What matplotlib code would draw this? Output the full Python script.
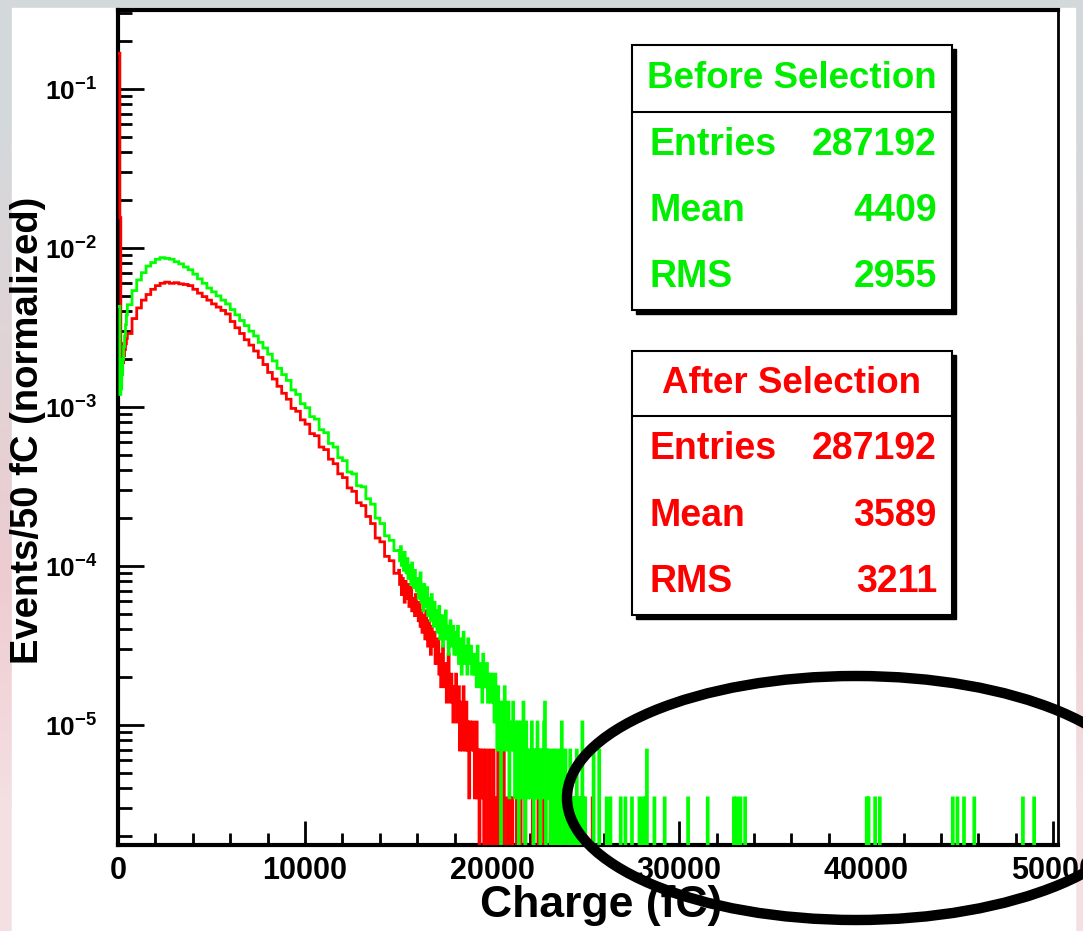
import numpy as np
import matplotlib.pyplot as plt
from matplotlib.patches import Rectangle, Ellipse
from matplotlib.ticker import FixedLocator, MultipleLocator, NullFormatter

plt.rcParams['font.family'] = ['Liberation Sans', 'DejaVu Sans']
plt.rcParams['font.weight'] = 'bold'
plt.rcParams['mathtext.fontset'] = 'custom'
plt.rcParams['mathtext.bf'] = 'Liberation Sans:bold'
plt.rcParams['mathtext.rm'] = 'Liberation Sans:bold'

n_entries = 287192

# 0-500 fC, single 50 fC bins (normalized)
green_head = [4.3e-3, 4.3e-3, 1.2e-3, 1.3e-3, 1.6e-3, 2.0e-3, 2.4e-3, 2.8e-3, 3.3e-3, 3.8e-3]
red_head = [0.168, 0.168, 1.55e-2, 2.5e-3, 1.7e-3, 1.9e-3, 2.1e-3, 2.3e-3, 2.5e-3, 2.7e-3]

# 500-15000 fC, read every 250 fC (per 50 fC, normalized)
green_body = [4.4e-3, 5.4e-3, 6.3e-3, 7.0e-3, 7.7e-3, 8.1e-3, 8.5e-3, 8.7e-3, 8.6e-3, 8.5e-3,
              8.2e-3, 7.95e-3, 7.6e-3, 7.3e-3, 6.85e-3, 6.4e-3, 6.0e-3, 5.6e-3, 5.3e-3, 5.0e-3,
              4.7e-3, 4.45e-3, 4.1e-3, 3.8e-3, 3.5e-3, 3.25e-3, 3.0e-3, 2.8e-3, 2.55e-3, 2.35e-3,
              2.15e-3, 1.95e-3, 1.75e-3, 1.6e-3, 1.47e-3, 1.28e-3, 1.2e-3, 1.05e-3, 9.9e-4, 8.7e-4,
              8.4e-4, 7.2e-4, 6.9e-4, 5.9e-4, 5.6e-4, 4.8e-4, 4.6e-4, 3.9e-4, 3.8e-4, 3.2e-4,
              3.15e-4, 2.65e-4, 2.45e-4, 2.0e-4, 1.85e-4, 1.55e-4, 1.45e-4, 1.25e-4]
red_body = [2.9e-3, 3.6e-3, 4.2e-3, 4.7e-3, 5.1e-3, 5.5e-3, 5.8e-3, 6.0e-3, 6.1e-3, 6.0e-3,
            6.05e-3, 5.95e-3, 5.9e-3, 5.8e-3, 5.5e-3, 5.2e-3, 4.95e-3, 4.7e-3, 4.45e-3, 4.25e-3,
            4.05e-3, 3.85e-3, 3.45e-3, 3.15e-3, 2.9e-3, 2.65e-3, 2.45e-3, 2.25e-3, 2.05e-3, 1.85e-3,
            1.65e-3, 1.5e-3, 1.35e-3, 1.22e-3, 1.12e-3, 9.8e-4, 9.4e-4, 8.3e-4, 7.8e-4, 6.8e-4,
            6.6e-4, 5.6e-4, 5.4e-4, 4.7e-4, 4.4e-4, 3.8e-4, 3.6e-4, 3.1e-4, 2.95e-4, 2.5e-4,
            2.4e-4, 2.05e-4, 1.85e-4, 1.5e-4, 1.42e-4, 1.15e-4, 1.08e-4, 9.0e-5]

# 15000-25000 fC, entries per 50 fC bin
green_tail = [36, 31, 38, 29, 33, 27, 35, 30, 26, 32, 24, 29, 27, 22, 30, 25, 21, 27, 23, 20,
              24, 18, 21, 26, 17, 20, 15, 22, 19, 16, 21, 14, 18, 17, 13, 19, 15, 12, 17, 14,
              15, 11, 13, 16, 10, 12, 14, 9, 13, 11, 15, 10, 12, 8, 11, 13, 9, 10, 12, 8,
              11, 9, 8, 12, 7, 9, 10, 6, 8, 11, 7, 9, 8, 6, 10, 7, 8, 9, 6, 7,
              8, 6, 7, 5, 9, 6, 5, 7, 6, 4, 8, 5, 6, 5, 7, 4, 6, 5, 4, 6,
              5, 4, 3, 6, 4, 2, 5, 3, 4, 0, 3, 4, 2, 5, 3, 3, 2, 4, 1, 3,
              3, 2, 4, 2, 1, 3, 2, 3, 0, 2, 3, 1, 2, 4, 2, 0, 3, 2, 1, 2,
              2, 1, 3, 2, 0, 2, 1, 2, 3, 1, 2, 0, 2, 1, 2, 3, 4, 0, 2, 1,
              2, 1, 0, 1, 2, 1, 0, 2, 1, 1, 0, 2, 1, 0, 3, 1, 1, 0, 2, 1,
              1, 0, 1, 2, 0, 1, 1, 0, 1, 0, 2, 1, 0, 1, 1, 0, 3, 1, 0, 1]
red_tail = [27, 22, 25, 19, 24, 21, 17, 23, 20, 18, 22, 16, 19, 21, 15, 18, 17, 14, 19, 15,
            16, 13, 17, 12, 15, 11, 14, 13, 10, 15, 12, 9, 13, 11, 8, 12, 10, 9, 11, 7,
            9, 7, 10, 6, 8, 5, 7, 9, 6, 5, 7, 4, 6, 8, 5, 4, 6, 5, 3, 5,
            4, 6, 3, 4, 5, 2, 4, 3, 2, 5, 3, 2, 4, 2, 3, 1, 3, 2, 2, 3,
            2, 1, 2, 3, 1, 2, 0, 2, 1, 1, 2, 0, 1, 2, 1, 0, 1, 2, 1, 0,
            1, 2, 0, 1, 0, 0, 2, 1, 0, 0, 0, 1, 2, 0, 0, 0, 1, 0, 0, 1,
            0, 1, 0, 0, 0, 0, 1, 0, 0, 0, 1, 0, 0, 0, 0, 1, 0, 0, 0, 0,
            0, 0, 0, 1, 0, 0, 0, 0, 0, 1, 0, 0, 0, 0, 0, 1, 1, 0, 0, 0,
            0, 0, 1, 0, 0, 0, 0, 0, 0, 0, 1, 0, 0, 0, 0, 0, 0, 0, 0, 0,
            0, 0, 0, 1, 0, 0, 0, 0, 0, 0, 0, 0, 0, 0, 1, 0, 0, 0, 0, 0]

# isolated bins above 25000 fC: bin lower edge (fC), entries
green_far_at = [25400, 25700, 26100, 26300, 26850, 27100, 27450, 27850, 28050, 28200,
                28250, 28650, 29200, 30450, 31500, 32900, 33050, 33250, 33500, 40000,
                40100, 40450, 40700, 44600, 44850, 45200, 45750, 48350, 48950]
green_far_n = [2, 2, 1, 1, 1, 1, 1, 1, 1, 1,
               2, 1, 1, 1, 1, 1, 1, 1, 1, 1,
               1, 1, 1, 1, 1, 1, 1, 1, 1]
red_far_at = [25350, 28200]
red_far_n = [1, 1]

stats_before = [("Entries", "287192"), ("Mean", "4409"), ("RMS", "2955")]
stats_after = [("Entries", "287192"), ("Mean", "3589"), ("RMS", "3211")]


def build(head, body, tail, far_at, far_n):
    edges = np.concatenate([np.arange(0, 500, 50), np.arange(500, 15000, 250),
                            np.arange(15000, 50001, 50)])
    far = np.zeros(500)
    for a, n in zip(far_at, far_n):
        far[(a - 25000) // 50] += n
    vals = np.concatenate([head, body, np.array(tail) / n_entries, far / n_entries])
    vals = np.where(vals > 0, vals, 1e-9)  # empty bins drop to the frame
    return edges, vals


W, H = 1083, 931
def fx(px):
    return px / W
def fy(py):
    return 1 - py / H

fig = plt.figure(figsize=(W / 100, H / 100), dpi=100)

# slide background strips
bg = fig.add_axes([0, 0, 1, 1], zorder=-5)
grad = np.array([[0.83, 0.85, 0.86], [0.88, 0.83, 0.84], [0.93, 0.80, 0.82], [0.96, 0.88, 0.89]])
bg.imshow(grad[:, None, :], aspect='auto', extent=[0, 1, 0, 1], interpolation='bilinear')
bg.add_patch(Rectangle((fx(12), 0), fx(1075) - fx(12), fy(8), color='white'))
bg.set_xlim(0, 1)
bg.set_ylim(0, 1)
bg.axis('off')

ax = fig.add_axes([fx(118), fy(845), fx(1058) - fx(118), fy(10) - fy(845)])
ge, gv = build(green_head, green_body, green_tail, green_far_at, green_far_n)
re, rv = build(red_head, red_body, red_tail, red_far_at, red_far_n)
ax.stairs(rv, re, color='#ff0000', lw=2, baseline=None, zorder=3)
ax.stairs(gv, ge, color='#00ff00', lw=2, baseline=None, zorder=3)

ax.set_yscale('log')
ax.set_xlim(0, 50250)
ax.set_ylim(1.76e-6, 0.314)

ax.xaxis.set_minor_locator(MultipleLocator(2000))
ax.set_xticks([0, 10000, 20000, 30000, 40000, 50000])
ax.set_xticklabels(['0', '10000', '20000', '30000', '40000', '50000'])
ydec = [1e-5, 1e-4, 1e-3, 1e-2, 1e-1]
ax.yaxis.set_major_locator(FixedLocator(ydec))
ax.set_yticklabels([r'$\mathbf{10^{-%d}}$' % k for k in [5, 4, 3, 2, 1]])
ax.yaxis.set_minor_locator(FixedLocator([m * d for d in [1e-6] + ydec for m in range(2, 10)]))
ax.yaxis.set_minor_formatter(NullFormatter())

ax.tick_params(axis='x', which='major', direction='in', length=17, width=2, labelsize=22, pad=8)
ax.tick_params(axis='x', which='minor', direction='in', length=9, width=2)
ax.tick_params(axis='y', which='major', direction='in', length=19, width=2, labelsize=19, pad=15)
ax.tick_params(axis='y', which='minor', direction='in', length=10, width=2)
ax.tick_params(top=False, right=False, which='both')
for s in ['left', 'bottom', 'top']:
    ax.spines[s].set_linewidth(3)
ax.spines['right'].set_linewidth(2)

fig.text(fx(601), fy(906), 'Charge (fC)', ha='center', va='center', fontsize=32, fontweight='bold')
fig.text(fx(28), fy(430), 'Events/50 fC (normalized)', ha='center', va='center',
         rotation=90, fontsize=27.5, fontweight='bold')


def stat_box(top, bottom, sep, title, rows, color):
    x0, x1 = 632, 952
    fig.add_artist(Rectangle((fx(x0 + 4), fy(bottom + 4)), fx(x1) - fx(x0), fy(top) - fy(bottom),
                             facecolor='black', edgecolor='black', zorder=8))
    fig.add_artist(Rectangle((fx(x0), fy(bottom)), fx(x1) - fx(x0), fy(top) - fy(bottom),
                             facecolor='white', edgecolor='black', lw=1.5, zorder=9))
    fig.add_artist(plt.Line2D([fx(x0), fx(x1)], [fy(sep), fy(sep)], color='black', lw=1.5, zorder=10))
    fig.text(fx((x0 + x1) / 2), fy((top + sep) / 2), title, ha='center', va='center',
             color=color, fontsize=26.5, fontweight='bold', zorder=11)
    row_h = (bottom - sep) / len(rows)
    for i, (k, v) in enumerate(rows):
        yy = sep + row_h * (i + 0.5)
        fig.text(fx(650), fy(yy), k, ha='left', va='center', color=color,
                 fontsize=27, fontweight='bold', zorder=11)
        fig.text(fx(937), fy(yy), v, ha='right', va='center', color=color,
                 fontsize=27, fontweight='bold', zorder=11)


stat_box(45, 310, 112, 'Before Selection', stats_before, '#00ee00')
stat_box(351, 615, 416, 'After Selection', stats_after, '#ff0000')

fig.add_artist(Ellipse((fx(856), fy(798)), fx(578), 244 / H, facecolor='none',
                       edgecolor='black', lw=7.5, zorder=12, clip_on=False))

fig.savefig('out.png', dpi=100)
